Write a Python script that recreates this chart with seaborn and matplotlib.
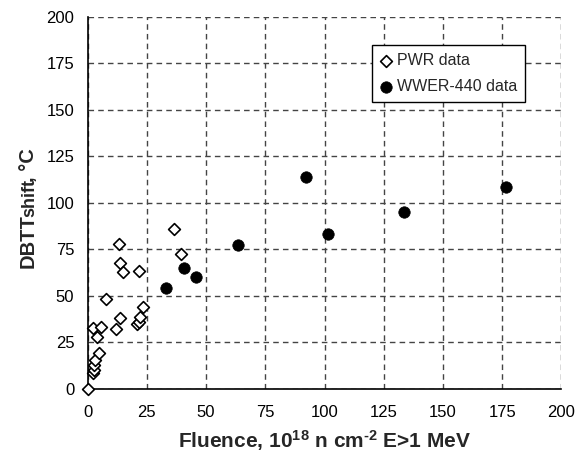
import matplotlib
matplotlib.use("Agg")
import matplotlib.pyplot as plt
from matplotlib.transforms import IdentityTransform
import seaborn as sns
import pandas as pd

# PWR data (fluence 1e18 n/cm2, DBTT shift degC)
pwr_x = [0.0, 2.3, 2.5, 2.5, 3.2, 4.7, 4.0, 2.3, 5.5, 12.0, 13.7, 21.0, 21.8, 22.1, 23.3,
         7.8, 13.3, 13.7, 15.1, 21.7, 36.5, 39.4]
pwr_y = [0.0, 8.3, 10.0, 12.5, 15.5, 18.9, 27.5, 32.3, 33.0, 31.8, 37.7, 34.5, 35.9, 38.3, 43.8,
         48.1, 77.5, 67.3, 62.5, 63.0, 85.8, 72.3]
# WWER-440 data
wwer_x = [33.0, 40.6, 45.8, 63.4, 92.1, 101.6, 133.5, 176.7]
wwer_y = [54.0, 64.8, 60.1, 77.1, 113.7, 83.2, 94.7, 108.5]

x_ticks = [0, 25, 50, 75, 100, 125, 150, 175, 200]
y_ticks = [0, 25, 50, 75, 100, 125, 150, 175, 200]

df_pwr = pd.DataFrame({"x": pwr_x, "y": pwr_y})
df_wwer = pd.DataFrame({"x": wwer_x, "y": wwer_y})

sns.set_style("white")
plt.rcParams["font.family"] = ["Liberation Sans", "DejaVu Sans"]
plt.rcParams["mathtext.fontset"] = "custom"
plt.rcParams["mathtext.rm"] = "Liberation Sans:bold"
plt.rcParams["mathtext.bf"] = "Liberation Sans:bold"
plt.rcParams["mathtext.default"] = "rm"

W, H = 580, 462
fig = plt.figure(figsize=(W / 100, H / 100), dpi=100)
ax = fig.add_axes([0.151, 0.159, 0.817, 0.805])

ax.set_xlim(0, 200)
ax.set_ylim(0, 200)
ax.set_xticks(x_ticks)
ax.set_yticks(y_ticks)
ax.grid(True, color="#444444", linestyle=(0, (4, 3)), linewidth=1.0)
ax.set_axisbelow(True)

sns.scatterplot(data=df_pwr, x="x", y="y", ax=ax, marker="D", s=36,
                color="white", edgecolor="black", linewidth=1.2,
                label="PWR data", clip_on=False, zorder=3)
sns.scatterplot(data=df_wwer, x="x", y="y", ax=ax, marker="o", s=68,
                color="black", edgecolor="black", linewidth=0.5,
                label="WWER-440 data", clip_on=False, zorder=3)

for side in ["top", "right"]:
    ax.spines[side].set_visible(False)
for side in ["left", "bottom"]:
    ax.spines[side].set_color("black")
    ax.spines[side].set_linewidth(1.2)

ax.tick_params(axis="both", direction="inout", length=11, width=1.0,
               colors="black", labelsize=12, pad=4)
ax.tick_params(axis="x", pad=6)

ax.set_xlabel(r"Fluence, 10$^{18}$ n cm$^{\text{-2}}$ E>1 MeV", fontsize=15,
              fontweight="bold", labelpad=6)
ax.set_ylabel("")

leg = ax.legend(loc="upper right", bbox_to_anchor=(0.923, 0.923), borderaxespad=0,
                frameon=True, fancybox=False, fontsize=11.5, handletextpad=0.35,
                handlelength=0.7, borderpad=0.5, labelspacing=0.7)
leg.get_frame().set_edgecolor("black")
leg.get_frame().set_linewidth(1.0)
leg.get_frame().set_facecolor("white")
leg.get_frame().set_alpha(1.0)

# y label composed of pieces: "DBTT" + smaller "shift" + ", °C"
fig.canvas.draw()
x_base = 34
y_pos = H - 268
pieces = [("DBTT", 14.5), ("shift", 13), (", °C", 14.5)]
for txt, fs in pieces:
    t = fig.text(x_base, y_pos, txt, rotation=90, rotation_mode="anchor",
                 ha="left", va="baseline", fontsize=fs, fontweight="bold",
                 transform=IdentityTransform())
    fig.canvas.draw()
    bb = t.get_window_extent()
    y_pos = bb.y1 - 3

fig.savefig("out.png", dpi=100)
